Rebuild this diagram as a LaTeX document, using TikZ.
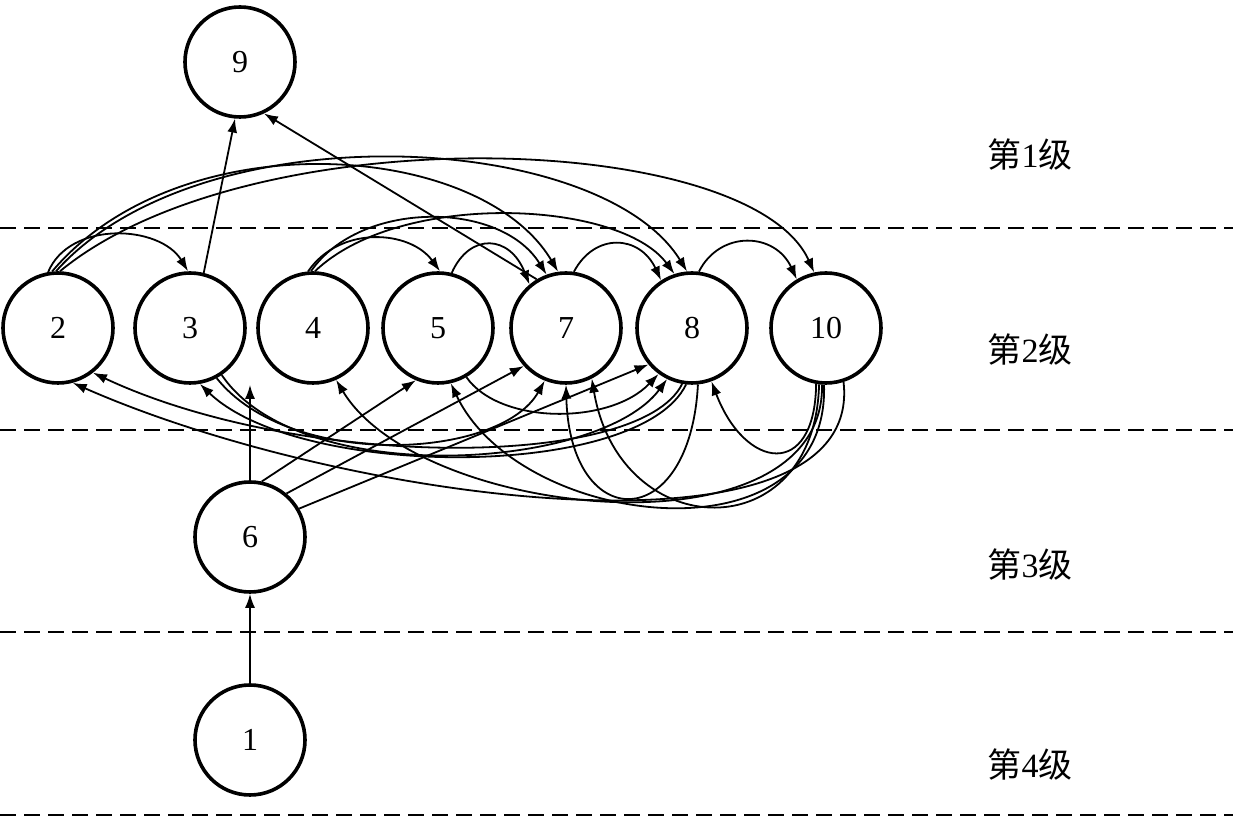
\documentclass[tikz,border=0pt]{standalone}
\usepackage{fontspec}
\setmainfont{Liberation Serif}
\newfontfamily\cjk{Noto Sans CJK SC}
\usetikzlibrary{arrows.meta}

\begin{document}
\begin{tikzpicture}[x=0.5pt,y=-0.5pt,>={Latex[length=7pt,width=5pt]},
  state/.style={circle,draw,line width=1.8pt,minimum size=55pt,inner sep=0pt,font=\fontsize{16}{19}\selectfont},
  link/.style={->,line width=0.9pt},
  levelline/.style={dash pattern=on 8pt off 4pt,line width=0.9pt},
  levelname/.style={font=\fontsize{17}{20}\selectfont}]
  \useasboundingbox (0,0) rectangle (1233,817);
  % level boundaries and names
  \foreach \y in {228,430,632,815}
    \draw[levelline] (0,\y) -- (1233,\y);
  \foreach \i/\y in {1/155,2/350,3/565,4/765}
    \node[levelname] (lv\i) at (1030,\y) {{\cjk 第}\i{\cjk 级}};
  % nodes
  \node[state] (n9) at (240,62) {9};
  \foreach \n/\x in {2/58,3/190,4/313,5/438,7/566,8/692,10/826}
    \node[state] (n\n) at (\x,328) {\n};
  \node[state] (n6) at (250,537) {6};
  \node[state] (n1) at (250,740) {1};
  % straight links
  \draw[link] (n3.76) -- (n9.-95);
  \draw[link] (n7.121) -- (n9.-65);
  \draw[link] (n1) -- (n6);
  \draw[link] (n6.north) -- (n6.north |- n3.south);
  \draw[link] (n6.78) -- (n5.-113);
  \draw[link] (n6.50) -- (n7.-138);
  \draw[link] (n6.30) -- (n8.-140);
  % arcs above level 2
  \draw[link] (n2.100) .. controls (70,220) and (160,225) .. (n3.92);
  \draw[link] (n2.96) .. controls (180,120) and (480,140) .. (n7.98);
  \draw[link] (n2.92) .. controls (200,110) and (600,130) .. (n8.95);
  \draw[link] (n2.88) .. controls (250,115) and (750,130) .. (n10.102);
  \draw[link] (n4.95) .. controls (340,225) and (410,230) .. (n5.88);
  \draw[link] (n4.92) .. controls (360,200) and (500,200) .. (n7.110);
  \draw[link] (n4.88) .. controls (400,190) and (620,200) .. (n8.108);
  \draw[link] (n5.76) .. controls (470,232) and (510,235) .. (n7.130);
  \draw[link] (n7.82) .. controls (595,232) and (640,235) .. (n8.123);
  \draw[link] (n8.83) .. controls (720,230) and (775,232) .. (n10.121);
  % arcs below level 2
  \draw[link] (n3.-62) .. controls (290,470) and (500,460) .. (n7.-112);
  \draw[link] (n3.-56) .. controls (300,490) and (600,470) .. (n8.-116);
  \draw[link] (n5.-60) .. controls (500,425) and (610,425) .. (n8.-126);
  \draw[link] (n8.-84) .. controls (690,535) and (570,535) .. (n7.-90);
  \draw[link] (n8.-96) .. controls (640,480) and (300,480) .. (n3.-80);
  \draw[link] (n8.-100) .. controls (640,470) and (300,470) .. (n2.-52);
  \draw[link] (n10.-100) .. controls (815,480) and (745,470) .. (n8.-70);
  \draw[link] (n10.-97) .. controls (815,550) and (620,545) .. (n7.-63);
  \draw[link] (n10.-94) .. controls (825,560) and (420,520) .. (n4.-66);
  \draw[link] (n10.-92) .. controls (830,565) and (520,530) .. (n5.-77);
  \draw[link] (n10.-72) .. controls (865,570) and (350,505) .. (n2.-75);
\end{tikzpicture}
\end{document}
